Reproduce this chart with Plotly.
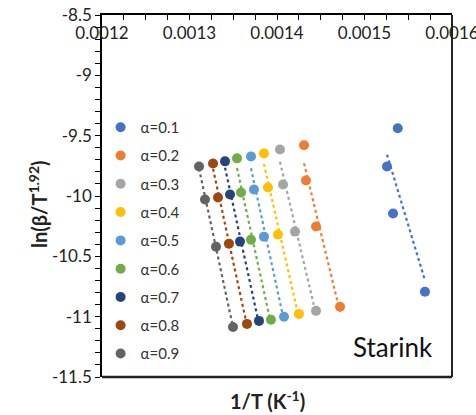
import numpy as np
import plotly.graph_objects as go

# ---- data ----
alphas = ["α=0.1", "α=0.2", "α=0.3", "α=0.4", "α=0.5", "α=0.6", "α=0.7", "α=0.8", "α=0.9"]
colors = ["#4472C4", "#ED7D31", "#A5A5A5", "#FFC000", "#5B9BD5",
          "#70AD47", "#264478", "#9E480E", "#636363"]

x_a01 = [0.001538, 0.0015257, 0.0015326, 0.0015691]
y_a01 = [-9.439, -9.755, -10.145, -10.794]
x_a02 = [0.0014309, 0.0014331, 0.0014446, 0.0014720]
y_a02 = [-9.580, -9.871, -10.253, -10.918]
x_a03 = [0.0014034, 0.0014069, 0.0014206, 0.0014446]
y_a03 = [-9.614, -9.904, -10.295, -10.952]
x_a04 = [0.0013851, 0.0013897, 0.0014011, 0.0014251]
y_a04 = [-9.647, -9.929, -10.320, -10.977]
x_a05 = [0.0013703, 0.0013737, 0.0013851, 0.0014080]
y_a05 = [-9.672, -9.946, -10.337, -11.001]
x_a06 = [0.0013543, 0.0013589, 0.0013703, 0.0013931]
y_a06 = [-9.688, -9.971, -10.362, -11.026]
x_a07 = [0.0013406, 0.0013463, 0.0013577, 0.0013794]
y_a07 = [-9.713, -9.988, -10.378, -11.035]
x_a08 = [0.0013269, 0.0013326, 0.0013451, 0.0013657]
y_a08 = [-9.730, -10.012, -10.395, -11.060]
x_a09 = [0.0013109, 0.0013177, 0.0013303, 0.0013497]
y_a09 = [-9.755, -10.029, -10.420, -11.085]

xs = [x_a01, x_a02, x_a03, x_a04, x_a05, x_a06, x_a07, x_a08, x_a09]
ys = [y_a01, y_a02, y_a03, y_a04, y_a05, y_a06, y_a07, y_a08, y_a09]

x_tickvals = [0.0012, 0.0013, 0.0014, 0.0015, 0.0016]
x_ticktext = ["0.0012", "0.0013", "0.0014", "0.0015", "0.0016"]
y_tickvals = [-8.5, -9, -9.5, -10, -10.5, -11, -11.5]
y_ticktext = ["-8.5", "-9", "-9.5", "-10", "-10.5", "-11", "-11.5"]

FONT = "Lato"

fig = go.Figure()

# dotted linear trendlines (least squares fit of each series)
for x, y, c in zip(xs, ys, colors):
    k, b = np.polyfit(x, y, 1)
    xl = np.array([min(x), max(x)])
    fig.add_trace(go.Scatter(x=xl, y=k * xl + b, mode="lines",
                             line=dict(color=c, width=2.2, dash="dot"),
                             showlegend=False, hoverinfo="skip"))

for x, y, c, name in zip(xs, ys, colors, alphas):
    fig.add_trace(go.Scatter(x=x, y=y, mode="markers", name=name,
                             legendgroup=name,
                             marker=dict(color=c, size=10)))

fig.update_layout(
    width=476, height=415,
    margin=dict(l=102, r=24, t=15, b=38, autoexpand=False),
    paper_bgcolor="white", plot_bgcolor="white",
    font=dict(family=FONT, size=17, color="#222222"),
    showlegend=True,
    legend=dict(x=-0.004, y=0.735, xanchor="left", yanchor="top",
                font=dict(family=FONT, size=15, color="#333333"),
                tracegroupgap=5.8, bgcolor="rgba(0,0,0,0)",
                traceorder="grouped"),
)

fig.update_xaxes(
    range=[0.0012, 0.0016], side="top", automargin=False,
    tickvals=x_tickvals, ticktext=x_ticktext,
    ticklabelposition="inside", ticklabeloverflow="allow",
    ticklabelstandoff=8,
    ticks="inside", ticklen=5, tickcolor="#000", tickwidth=1,
    minor=dict(dtick=0.000025, ticks="inside", ticklen=5, tickcolor="#000", tickwidth=1),
    showline=True, linecolor="#000", linewidth=1.5,
    showgrid=False, zeroline=False,
    tickfont=dict(family=FONT, size=17, color="#222"),
    mirror=False,
)
fig.update_yaxes(
    range=[-11.5, -8.5], automargin=False,
    tickvals=y_tickvals, ticktext=y_ticktext,
    ticks="outside", ticklen=5, tickcolor="#000", tickwidth=1,
    ticklabeloverflow="allow",
    minor=dict(dtick=0.1, ticks="outside", ticklen=5, tickcolor="#000", tickwidth=1),
    showline=True, linecolor="#000", linewidth=1.5,
    showgrid=False, zeroline=False,
    tickfont=dict(family=FONT, size=17, color="#222"),
)

# plot-area border on right and bottom
fig.add_shape(type="line", xref="paper", yref="paper", x0=0, x1=1, y0=0, y1=0,
              line=dict(color="#222", width=2.5))
fig.add_shape(type="line", xref="paper", yref="paper", x0=1, x1=1, y0=0, y1=1,
              line=dict(color="#222", width=2))

# axis titles
fig.add_annotation(text="<b>1/T (K<sup>-1</sup>)</b>", xref="paper", yref="paper",
                   x=(267 - 102) / 350, y=-(400 - 377) / 362, xanchor="center", yanchor="middle",
                   showarrow=False, font=dict(family=FONT, size=20, color="#222"))
fig.add_annotation(text="<b>ln(β/T<sup>1.92</sup>)</b>", xref="paper", yref="paper",
                   x=(38 - 102) / 350, y=(377 - 204) / 362, xanchor="center", yanchor="middle",
                   textangle=-90, showarrow=False,
                   font=dict(family=FONT, size=20, color="#222"))
fig.add_annotation(text="Starink", xref="paper", yref="paper",
                   x=(393 - 102) / 350, y=(377 - 347) / 362, xanchor="center", yanchor="middle",
                   showarrow=False, font=dict(family=FONT, size=26, color="#111"))

fig.write_html("out.html")
